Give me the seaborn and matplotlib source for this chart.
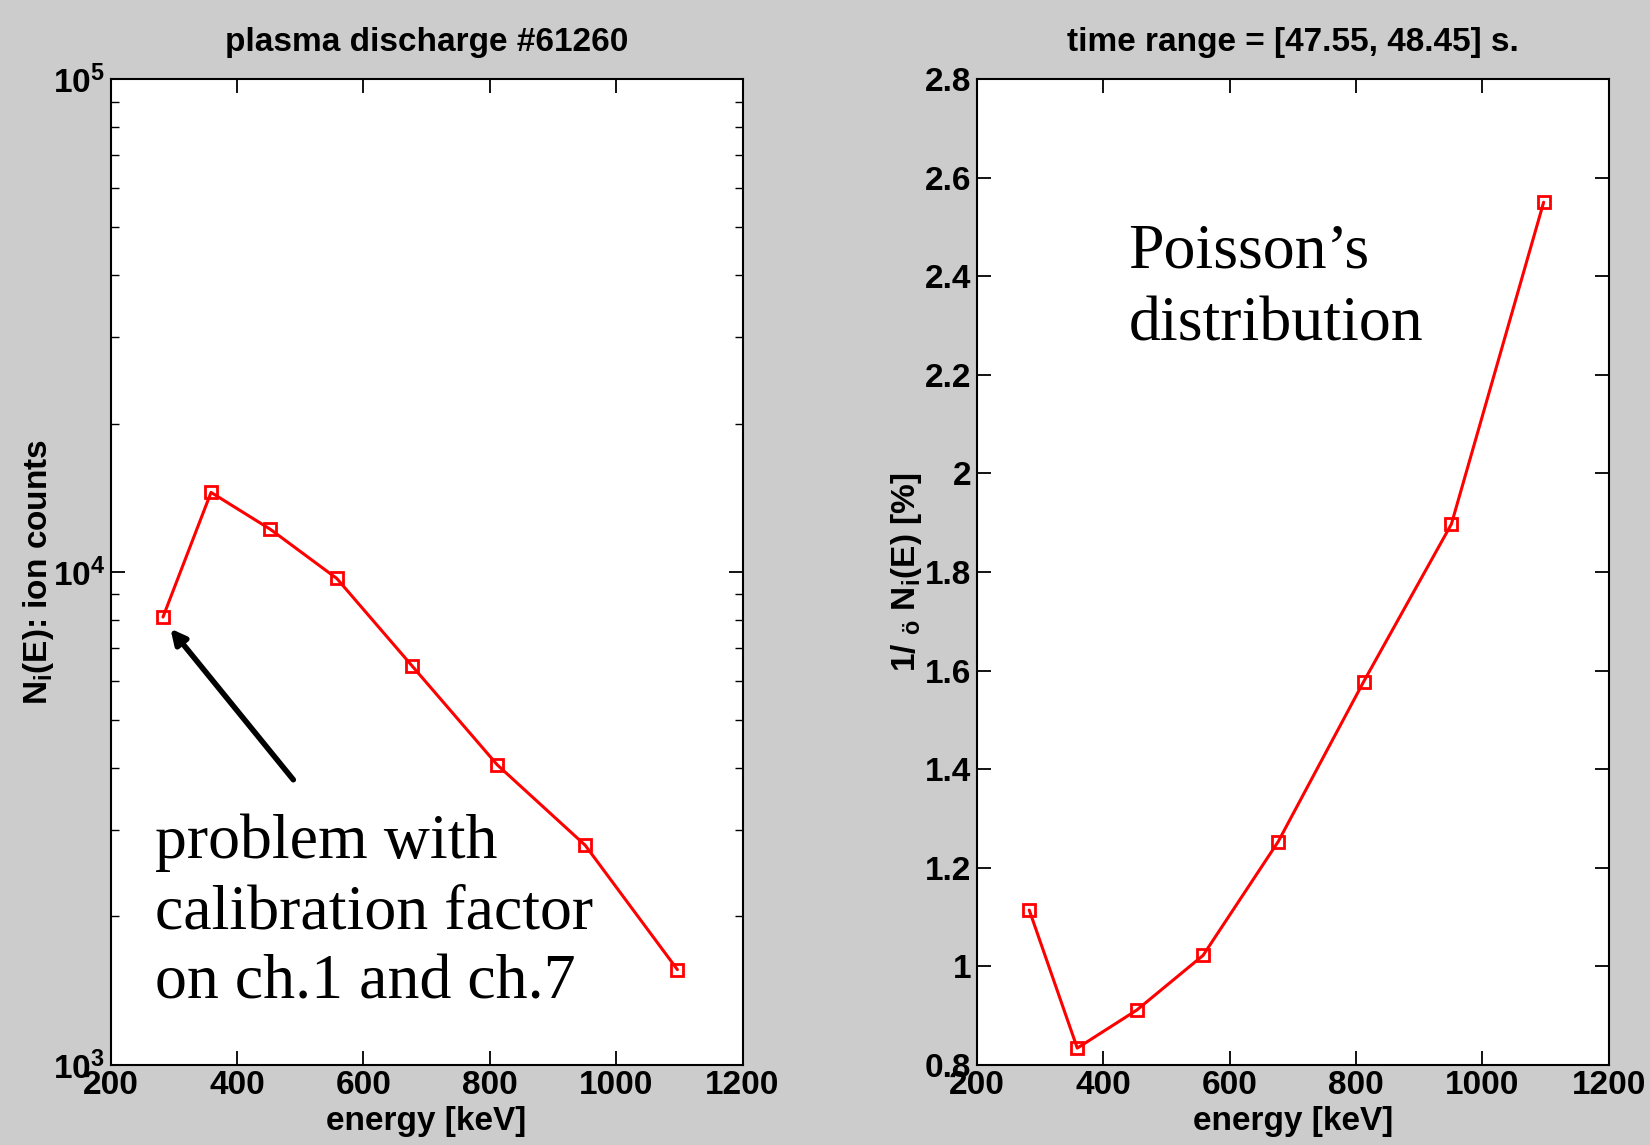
import numpy as np
import pandas as pd
import matplotlib
matplotlib.use("Agg")
import matplotlib.pyplot as plt
import seaborn as sns
from matplotlib.ticker import LogLocator, FixedLocator, NullFormatter

sns.set_theme(style="white")
plt.rcParams['font.family'] = ['Liberation Sans Narrow', 'Liberation Sans', 'DejaVu Sans']
plt.rcParams['mathtext.fontset'] = 'custom'
plt.rcParams['mathtext.rm'] = 'Liberation Sans:bold'
plt.rcParams['mathtext.it'] = 'Liberation Sans:bold'
plt.rcParams['mathtext.bf'] = 'Liberation Sans:bold'
for k in ['text.color', 'axes.labelcolor', 'xtick.color', 'ytick.color', 'axes.edgecolor']:
    plt.rcParams[k] = 'black'

# ---- data ----
energy_keV = [283, 359, 453, 558, 677, 812, 951, 1097]
ion_counts = [8100, 14500, 12200, 9700, 6450, 4060, 2790, 1560]
poisson_pct = [1.114, 0.834, 0.911, 1.022, 1.253, 1.577, 1.897, 2.550]

x_ticks = [200, 400, 600, 800, 1000, 1200]
y_ticks_right = [0.8, 1.0, 1.2, 1.4, 1.6, 1.8, 2.0, 2.2, 2.4, 2.6, 2.8]
y_tick_labels_right = ["0.8", "1", "1.2", "1.4", "1.6", "1.8", "2", "2.2", "2.4", "2.6", "2.8"]

left_df = pd.DataFrame({"energy": energy_keV, "counts": ion_counts})
right_df = pd.DataFrame({"energy": energy_keV, "pct": poisson_pct})

bg = "#cccccc"
fig = plt.figure(figsize=(16.5, 11.45), dpi=100, facecolor=bg)
axL = fig.add_axes([0.067, 0.070, 0.383, 0.861])
axR = fig.add_axes([0.592, 0.070, 0.383, 0.861])

tick_fs = 24
lab_fs = 24

for ax in (axL, axR):
    ax.set_facecolor("white")
    for s in ax.spines.values():
        s.set_color("black")
        s.set_linewidth(1.5)

line_kw = dict(color="red", linewidth=2.2, marker="s", markersize=8,
               markerfacecolor="none", markeredgecolor="red", markeredgewidth=2)

sns.lineplot(data=left_df, x="energy", y="counts", ax=axL, sort=False, **line_kw)
sns.lineplot(data=right_df, x="energy", y="pct", ax=axR, sort=False, **line_kw)

serif = ["Liberation Serif", "DejaVu Serif"]

# left axes
axL.set_yscale("log")
axL.set_ylim(1e3, 1e5)
axL.set_xlim(200, 1200)
axL.xaxis.set_major_locator(FixedLocator(x_ticks))
axL.yaxis.set_minor_locator(LogLocator(base=10, subs=np.arange(2, 10), numticks=20))
axL.yaxis.set_minor_formatter(NullFormatter())
axL.set_yticks([1e3, 1e4, 1e5])
axL.set_yticklabels([r"$\mathregular{10^{3}}$", r"$\mathregular{10^{4}}$", r"$\mathregular{10^{5}}$"])
axL.set_title("plasma discharge #61260", fontsize=lab_fs, fontweight="bold", pad=20)
axL.set_xlabel("energy [keV]", fontsize=lab_fs, fontweight="bold", labelpad=3)
axL.set_ylabel(r"N$\mathregular{_i}$(E): ion counts", fontsize=lab_fs, fontweight="bold")
axL.yaxis.set_label_coords(-0.087, 0.5)

axL.annotate("", xy=(292, 7750), xytext=(492, 3750), xycoords="data",
             arrowprops=dict(arrowstyle="-|>", color="black", lw=4, mutation_scale=22))
axL.text(0.07, 0.255, "problem with\ncalibration factor\non ch.1 and ch.7",
         transform=axL.transAxes, family=serif,
         fontsize=46, va="top", ha="left", linespacing=1.28)

# right axes
axR.set_xlim(200, 1200)
axR.set_ylim(0.8, 2.8)
axR.xaxis.set_major_locator(FixedLocator(x_ticks))
axR.set_yticks(y_ticks_right)
axR.set_yticklabels(y_tick_labels_right)
axR.set_title("time range = [47.55, 48.45] s.", fontsize=lab_fs, fontweight="bold", pad=20)
axR.set_xlabel("energy [keV]", fontsize=lab_fs, fontweight="bold", labelpad=3)
axR.set_ylabel(r"1/ $\mathregular{_{ö}}$ N$\mathregular{_i}$(E) [%]", fontsize=lab_fs,
               fontweight="bold")
axR.yaxis.set_label_coords(-0.083, 0.5)
axR.text(0.24, 0.853, "Poisson\u2019s\ndistribution", transform=axR.transAxes,
         family=serif, fontsize=46, va="top", ha="left", linespacing=1.32)

for ax in (axL, axR):
    ax.tick_params(axis="both", which="major", direction="in", length=10, width=1.3,
                   top=True, right=True, bottom=True, left=True, labelsize=tick_fs, pad=4)
    ax.tick_params(axis="both", which="minor", direction="in", length=6, width=1.0,
                   top=False, right=True, left=True)
    for lbl in ax.get_xticklabels() + ax.get_yticklabels():
        lbl.set_fontweight("bold")

fig.savefig("out.png", dpi=100, facecolor=bg)
